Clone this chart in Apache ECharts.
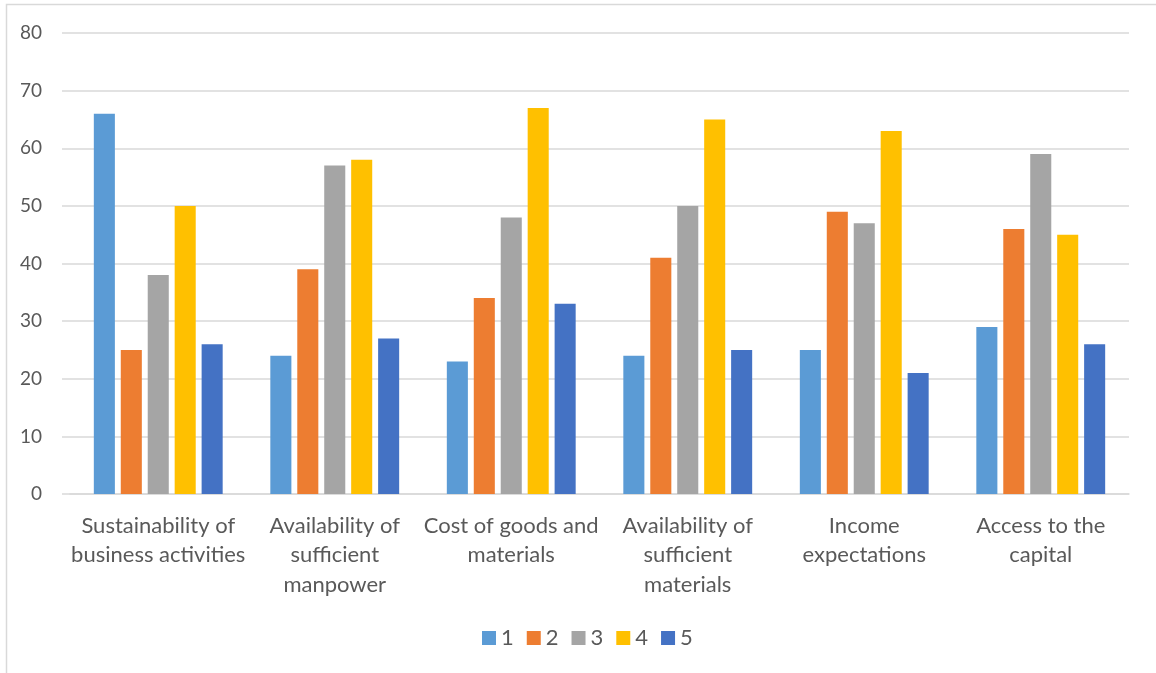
<!DOCTYPE html>
<html>
<head>
<meta charset="utf-8">
<script src="https://cdn.jsdelivr.net/npm/echarts@6/dist/echarts.min.js"></script>
<style>
  html, body { margin: 0; padding: 0; background: #fff; }
  #chart { width: 1156px; height: 673px; }
</style>
</head>
<body>
<div id="chart"></div>
<script>
// Factor categories (x axis), wrapped as in the printed chart
const categories = [
  'Sustainability of\nbusiness activities',
  'Availability of\nsufficient\nmanpower',
  'Cost of goods and\nmaterials',
  'Availability of\nsufficient\nmaterials',
  'Income\nexpectations',
  'Access to the\ncapital'
];

// Rating levels 1..5, one series each
const seriesNames = ['1', '2', '3', '4', '5'];
const rating1 = [66, 24, 23, 24, 25, 29];
const rating2 = [25, 39, 34, 41, 49, 46];
const rating3 = [38, 57, 48, 50, 47, 59];
const rating4 = [50, 58, 67, 65, 63, 45];
const rating5 = [26, 27, 33, 25, 21, 26];
const seriesValues = [rating1, rating2, rating3, rating4, rating5];

const colors = ['#5B9BD5', '#ED7D31', '#A5A5A5', '#FFC000', '#4472C4'];
const font = 'Lato, "Open Sans", sans-serif';
const textColor = '#595959';
const lineColor = '#D9D9D9';

const chart = echarts.init(document.getElementById('chart'));

chart.setOption({
  animation: false,
  color: colors,
  grid: { left: 70, right: 27, top: 33, bottom: 179 },
  legend: {
    top: 622,
    left: 477,
    itemWidth: 14,
    itemHeight: 14,
    itemGap: 13,
    icon: 'rect',
    textStyle: { fontFamily: font, fontSize: 22, lineHeight: 22, color: textColor },
    data: seriesNames
  },
  xAxis: {
    type: 'category',
    data: categories,
    axisLine: { show: true, lineStyle: { color: lineColor, width: 1.5 } },
    axisTick: { show: false },
    axisLabel: {
      interval: 0,
      margin: 17,
      fontFamily: font,
      fontSize: 22,
      lineHeight: 29.5,
      color: textColor,
      align: 'center'
    }
  },
  yAxis: {
    type: 'value',
    min: 0,
    max: 80,
    interval: 10,
    axisLine: { show: false },
    // short outward ticks continue each gridline a little past the plot edge
    axisTick: { show: true, length: 8, lineStyle: { color: lineColor, width: 1.5 } },
    splitLine: { lineStyle: { color: lineColor, width: 1.5 } },
    axisLabel: {
      margin: 28,
      fontFamily: font,
      fontSize: 19,
      color: textColor
    }
  },
  series: seriesNames.map((name, i) => ({
    name: name,
    type: 'bar',
    data: seriesValues[i],
    barGap: '28%',
    barCategoryGap: '27%',
    itemStyle: { color: colors[i] }
  })),
  graphic: [
    {
      type: 'rect',
      silent: true,
      shape: { x: 6.5, y: 4.5, width: 1200, height: 700 },
      style: { fill: 'none', stroke: lineColor, lineWidth: 1.5 }
    }
  ]
});
</script>
</body>
</html>
